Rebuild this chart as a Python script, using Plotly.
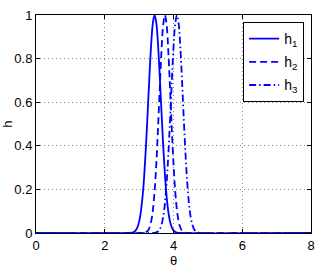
import plotly.graph_objects as go

# theta samples and curve values
theta_h1 = [0, 2.70, 2.75, 2.80, 2.85, 2.90, 2.95, 3.00, 3.05, 3.10, 3.15, 3.20, 3.25, 3.30, 3.35, 3.40, 3.45,
            3.50, 3.55, 3.60, 3.65, 3.70, 3.75, 3.80, 3.85, 3.90, 3.95, 4.00, 4.05, 4.10, 4.15, 4.20, 8]
h1 = [0, 0, 0.001, 0.002, 0.005, 0.012, 0.026, 0.052, 0.097, 0.167, 0.268, 0.401, 0.558, 0.720, 0.864, 0.964, 1.0,
      0.964, 0.864, 0.720, 0.558, 0.401, 0.268, 0.167, 0.097, 0.052, 0.026, 0.012, 0.005, 0.002, 0.001, 0, 0]

theta_h2 = [0, 3.10, 3.15, 3.20, 3.25, 3.30, 3.35, 3.40, 3.45, 3.50, 3.55, 3.60, 3.65, 3.70, 3.75,
            3.80, 3.85, 3.90, 3.95, 4.00, 4.05, 4.10, 4.15, 4.20, 4.25, 4.30, 4.35, 4.40, 8]
h2 = [0, 0, 0.001, 0.004, 0.010, 0.024, 0.053, 0.105, 0.191, 0.317, 0.480, 0.662, 0.832, 0.955, 1.0,
      0.955, 0.832, 0.662, 0.480, 0.317, 0.191, 0.105, 0.053, 0.024, 0.010, 0.004, 0.001, 0, 0]

theta_h3 = [0, 3.40, 3.45, 3.50, 3.55, 3.60, 3.65, 3.70, 3.75, 3.80, 3.85, 3.90, 3.95, 4.00, 4.05, 4.10,
            4.15, 4.20, 4.25, 4.30, 4.35, 4.40, 4.45, 4.50, 4.55, 4.60, 4.65, 4.70, 4.75, 4.80, 8]
h3 = [0, 0, 0.001, 0.003, 0.007, 0.017, 0.037, 0.073, 0.135, 0.230, 0.361, 0.520, 0.693, 0.849, 0.960, 1.0,
      0.960, 0.849, 0.693, 0.520, 0.361, 0.230, 0.135, 0.073, 0.037, 0.017, 0.007, 0.003, 0.001, 0, 0]

x_ticks = [0, 2, 4, 6, 8]
y_ticks = [0, 0.2, 0.4, 0.6, 0.8, 1]
y_tick_labels = ["0", "0.2", "0.4", "0.6", "0.8", "1"]

BLUE = "#0000ff"
FONT = "Liberation Sans, Arial, sans-serif"

fig = go.Figure()
fig.add_trace(go.Scatter(x=theta_h1, y=h1, mode="lines", name="h<sub>1</sub>", legendgroup="a",
                         line=dict(color=BLUE, width=1.8, dash="solid", shape="spline")))
fig.add_trace(go.Scatter(x=theta_h2, y=h2, mode="lines", name="h<sub>2</sub>", legendgroup="b",
                         line=dict(color=BLUE, width=1.8, dash="7px,4px", shape="spline")))
fig.add_trace(go.Scatter(x=theta_h3, y=h3, mode="lines", name="h<sub>3</sub>", legendgroup="c",
                         line=dict(color=BLUE, width=1.8, dash="7px,3px,1.5px,3px", shape="spline")))

axis_common = dict(
    showline=True, linecolor="black", linewidth=1, mirror="ticks",
    ticks="inside", ticklen=4, tickcolor="black",
    showgrid=True, gridcolor="#888888", griddash="1px,3px", gridwidth=1,
    zeroline=False, tickfont=dict(family=FONT, size=13, color="black"),
)

fig.update_xaxes(range=[0, 8], tickvals=x_ticks, ticktext=[str(v) for v in x_ticks],
                 title=dict(text="θ", font=dict(family=FONT, size=13, color="black"), standoff=3),
                 **axis_common)
fig.update_yaxes(range=[0, 1], tickvals=y_ticks, ticktext=y_tick_labels,
                 title=dict(text="h", font=dict(family=FONT, size=13, color="black"), standoff=3),
                 **axis_common)

fig.update_layout(
    width=321, height=271,
    margin=dict(l=36, r=10, t=15, b=38, autoexpand=False),
    paper_bgcolor="white", plot_bgcolor="white",
    font=dict(family=FONT, size=13, color="black"),
    showlegend=True,
    legend=dict(x=0.975, y=0.968, xanchor="right", yanchor="top",
                bgcolor="white", bordercolor="black", borderwidth=1,
                font=dict(family=FONT, size=14, color="black"),
                tracegroupgap=2, itemwidth=30),
)

fig.write_html("out.html", config={"displayModeBar": False},
               post_script="document.body.style.margin='0';document.body.style.overflow='hidden';")
